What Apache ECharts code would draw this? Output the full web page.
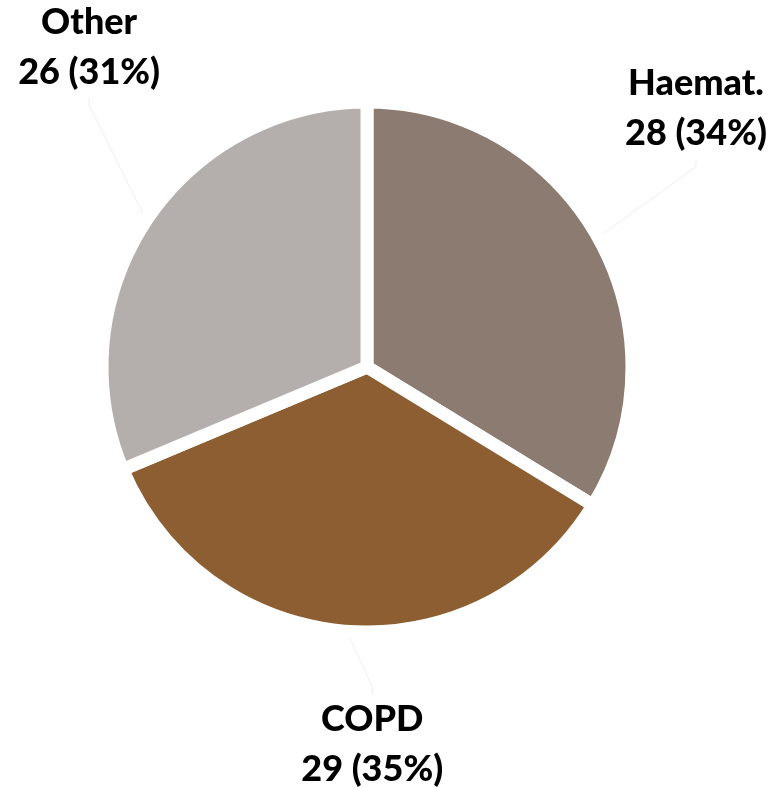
<!DOCTYPE html>
<html>
<head>
<meta charset="utf-8">
<script src="https://cdn.jsdelivr.net/npm/echarts@6/dist/echarts.min.js"></script>
<style>html,body{margin:0;padding:0;background:#fff}#c{width:782px;height:788px}</style>
</head>
<body>
<div id="c"></div>
<script>
const categories = ['Haemat.', 'COPD', 'Other'];
const values = [28, 29, 26];
const percents = [34, 35, 31];
const colors = ['#8b7b70', '#8c5e31', '#b4afac'];
const labelPos = [['89%', '13.8%'], ['47.6%', '94.5%'], ['11.4%', '6%']];

const chart = echarts.init(document.getElementById('c'));
chart.setOption({
  animation: false,
  series: [{
    type: 'pie',
    center: [367, 367],
    radius: 265,
    startAngle: 90,
    clockwise: true,
    avoidLabelOverlap: false,
    itemStyle: { borderColor: '#ffffff', borderWidth: 13 },
    label: {
      show: true,
      position: 'outside',
      formatter: p => p.name + '\n' + p.value + ' (' + percents[p.dataIndex] + '%)',
      fontFamily: 'Lato',
      fontWeight: 900,
      fontSize: 36,
      lineHeight: 50,
      color: '#000000',
      align: 'center'
    },
    labelLine: { show: true, lineStyle: { color: '#eeeeee', width: 1 }, length: 15, length2: 8 },
    labelLayout: function (params) {
      const pos = labelPos[params.dataIndex];
      return { x: pos[0], y: pos[1], align: 'center', verticalAlign: 'middle' };
    },
    emphasis: { disabled: true },
    data: categories.map((c, i) => ({ name: c, value: values[i], itemStyle: { color: colors[i] } }))
  }]
});
</script>
</body>
</html>
